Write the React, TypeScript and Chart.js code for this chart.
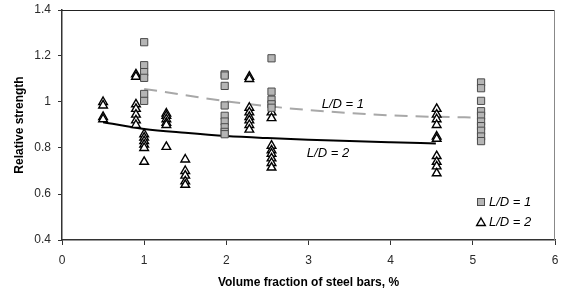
import React, { useEffect, useRef } from "react";
import { Chart, registerables } from "chart.js";

Chart.register(...registerables);

// Measured relative strength, L/D = 1 specimens
const ld1X = [
  1, 1, 1, 1, 1, 1,
  1.98, 1.98, 1.98, 1.98, 1.98, 1.98, 1.98, 1.98, 1.98,
  2.55, 2.55, 2.55, 2.55, 2.55,
  5.1, 5.1, 5.1, 5.1, 5.1, 5.1, 5.1, 5.1, 5.1, 5.1,
];
const ld1Y = [
  1.26, 1.16, 1.13, 1.105, 1.035, 1.005,
  1.12, 1.115, 1.07, 0.985, 0.94, 0.915, 0.89, 0.87, 0.86,
  1.19, 1.045, 1.01, 0.99, 0.975,
  1.085, 1.06, 1.005, 0.96, 0.94, 0.915, 0.895, 0.875, 0.85, 0.83,
];

// Measured relative strength, L/D = 2 specimens
const ld2X = [
  0.5, 0.5, 0.5, 0.5,
  0.9, 0.9, 0.9, 0.9, 0.9, 0.9, 0.9,
  1, 1, 1, 1, 1, 1,
  1.27, 1.27, 1.27, 1.27, 1.27, 1.27,
  1.5, 1.5, 1.5, 1.5, 1.5,
  2.28, 2.28, 2.28, 2.28, 2.28, 2.28, 2.28, 2.28,
  2.55, 2.55, 2.55, 2.55, 2.55, 2.55, 2.55, 2.55,
  4.56, 4.56, 4.56, 4.56, 4.56, 4.56, 4.56, 4.56, 4.56, 4.56,
];
const ld2Y = [
  1.0, 0.985, 0.935, 0.925,
  1.12, 1.11, 0.99, 0.97, 0.945, 0.92, 0.9,
  0.86, 0.845, 0.83, 0.815, 0.8, 0.74,
  0.95, 0.94, 0.925, 0.91, 0.9, 0.805,
  0.75, 0.7, 0.68, 0.655, 0.64,
  1.11, 1.1, 0.975, 0.955, 0.935, 0.92, 0.9, 0.88,
  0.955, 0.93, 0.81, 0.79, 0.775, 0.755, 0.735, 0.715,
  0.97, 0.945, 0.925, 0.9, 0.85, 0.84, 0.765, 0.74, 0.72, 0.69,
];

// Trend curves
const trend1X = [1, 1.5, 2, 2.5, 3, 3.5, 4, 4.5, 5.1];
const trend1Y = [1.057, 1.03, 1.003, 0.982, 0.965, 0.952, 0.942, 0.936, 0.932];
const trend2X = [0.5, 1, 1.5, 2, 2.5, 3, 3.5, 4, 4.55];
const trend2Y = [0.912, 0.883, 0.866, 0.852, 0.843, 0.836, 0.83, 0.825, 0.82];

// Axis ticks
const xTickValues = [0, 1, 2, 3, 4, 5, 6];
const yTickValues = [0.4, 0.6, 0.8, 1.0, 1.2, 1.4];
const yTickLabels = ["0.4", "0.6", "0.8", "1", "1.2", "1.4"];

// Curve annotations (data coordinates)
const curveLabelText = ["L/D = 1", "L/D = 2"];
const curveLabelX = [3.16, 2.98];
const curveLabelY = [0.99, 0.775];

const legendText = ["L/D = 1", "L/D = 2"];

const FONT = "'Liberation Sans', Arial, Helvetica, sans-serif";
const SQUARE_FILL = "#b5b5b5";
const SQUARE_EDGE = "#4a4a4a";

const toPoints = (xs: number[], ys: number[]) => xs.map((x, i) => ({ x, y: ys[i] }));

function drawSquare(ctx: CanvasRenderingContext2D, x: number, y: number) {
  ctx.fillStyle = SQUARE_FILL;
  ctx.strokeStyle = SQUARE_EDGE;
  ctx.lineWidth = 1;
  ctx.fillRect(x - 3.5, y - 3.5, 7, 7);
  ctx.strokeRect(x - 3.5, y - 3.5, 7, 7);
}

function drawTriangle(ctx: CanvasRenderingContext2D, x: number, y: number, r: number) {
  ctx.beginPath();
  let rad = 0;
  for (let i = 0; i < 3; i++) {
    const px = x + Math.sin(rad) * r;
    const py = y - Math.cos(rad) * r;
    if (i === 0) ctx.moveTo(px, py);
    else ctx.lineTo(px, py);
    rad += (Math.PI * 2) / 3;
  }
  ctx.closePath();
  ctx.fillStyle = "#fff";
  ctx.fill();
  ctx.strokeStyle = "#000";
  ctx.lineWidth = 1.4;
  ctx.stroke();
}

const decorations = {
  id: "decorations",
  afterDatasetsDraw(chart: any) {
    const { ctx, chartArea: a, scales } = chart;
    ctx.save();
    // frame on top and right
    ctx.lineWidth = 1;
    ctx.strokeStyle = "#222";
    ctx.beginPath();
    ctx.moveTo(a.left, a.top + 0.5);
    ctx.lineTo(a.right, a.top + 0.5);
    ctx.stroke();
    ctx.strokeStyle = "#888";
    ctx.beginPath();
    ctx.moveTo(a.right - 0.5, a.top);
    ctx.lineTo(a.right - 0.5, a.bottom);
    ctx.stroke();

    // curve annotations
    ctx.font = `italic 13px ${FONT}`;
    ctx.fillStyle = "#000";
    ctx.textBaseline = "middle";
    ctx.textAlign = "left";
    curveLabelText.forEach((t, i) => {
      ctx.fillText(t, scales.x.getPixelForValue(curveLabelX[i]), scales.y.getPixelForValue(curveLabelY[i]));
    });

    // legend, lower right of the plot area
    const lx = a.right - 74;
    const ly1 = a.bottom - 38;
    const ly2 = a.bottom - 18;
    drawSquare(ctx, lx, ly1);
    drawTriangle(ctx, lx, ly2 + 1, 5);
    ctx.fillStyle = "#000";
    ctx.fillText(legendText[0], lx + 8, ly1);
    ctx.fillText(legendText[1], lx + 8, ly2);
    ctx.restore();
  },
};

export default function App() {
  const canvasRef = useRef<HTMLCanvasElement | null>(null);

  useEffect(() => {
    if (!canvasRef.current) return;
    Chart.defaults.font.family = FONT;
    const chart = new Chart(canvasRef.current, {
      type: "scatter",
      data: {
        datasets: [
          {
            label: "L/D = 1",
            data: toPoints(ld1X, ld1Y),
            pointStyle: "rect",
            pointRadius: 5.1,
            backgroundColor: SQUARE_FILL,
            borderColor: SQUARE_EDGE,
            pointBorderWidth: 1,
            showLine: false,
          },
          {
            label: "L/D = 2",
            data: toPoints(ld2X, ld2Y),
            pointStyle: "triangle",
            pointRadius: 5,
            backgroundColor: "#ffffff",
            borderColor: "#000000",
            pointBorderWidth: 1.4,
            showLine: false,
          },
          {
            label: "trend L/D = 1",
            data: toPoints(trend1X, trend1Y),
            showLine: true,
            pointRadius: 0,
            borderColor: "#a8a8a8",
            borderWidth: 2,
            borderDash: [13, 8],
            cubicInterpolationMode: "monotone",
          },
          {
            label: "trend L/D = 2",
            data: toPoints(trend2X, trend2Y),
            showLine: true,
            pointRadius: 0,
            borderColor: "#000000",
            borderWidth: 2,
            cubicInterpolationMode: "monotone",
          },
        ],
      },
      options: {
        responsive: false,
        animation: false,
        layout: { padding: { top: 10, right: 7, left: 0, bottom: 0 } },
        plugins: {
          legend: { display: false },
          tooltip: { enabled: false },
        },
        scales: {
          x: {
            type: "linear",
            min: 0,
            max: 6,
            afterFit: (s: any) => {
              s.height = 50;
              s.paddingLeft = 0;
              s.paddingRight = 0;
            },
            afterBuildTicks: (s: any) => {
              s.ticks = xTickValues.map((v) => ({ value: v }));
            },
            ticks: {
              color: "#2a2a2a",
              font: { size: 12 },
              padding: 8,
              maxRotation: 0,
              callback: (v: any) => String(v),
            },
            grid: {
              drawOnChartArea: false,
              drawTicks: true,
              tickLength: 5,
              tickColor: "#333",
              tickWidth: 1,
            },
            border: { color: "#333", width: 1.5 },
            title: {
              display: true,
              text: "Volume fraction of steel bars, %",
              color: "#000",
              font: { size: 12, weight: "bold" },
              padding: { top: 0, bottom: 0 },
            },
          },
          y: {
            type: "linear",
            min: 0.4,
            max: 1.4,
            afterFit: (s: any) => {
              s.width = 62;
              s.paddingTop = 0;
              s.paddingBottom = 0;
            },
            afterBuildTicks: (s: any) => {
              s.ticks = yTickValues.map((v) => ({ value: v }));
            },
            ticks: {
              color: "#2a2a2a",
              font: { size: 12 },
              padding: 7,
              callback: (v: any) => {
                const i = yTickValues.findIndex((t) => Math.abs(t - Number(v)) < 1e-6);
                return i >= 0 ? yTickLabels[i] : "";
              },
            },
            grid: {
              drawOnChartArea: false,
              drawTicks: true,
              tickLength: 4,
              tickColor: "#333",
              tickWidth: 1,
            },
            border: { color: "#333", width: 1.5 },
            title: {
              display: true,
              text: "Relative strength",
              color: "#000",
              font: { size: 12, weight: "bold" },
              padding: { top: 12, bottom: 0 },
            },
          },
        },
      },
      plugins: [decorations],
    });
    return () => chart.destroy();
  }, []);

  return (
    <div style={{ position: "fixed", left: 0, top: 0, width: 562, height: 290, background: "#fff" }}>
      <canvas ref={canvasRef} width={562} height={290} style={{ display: "block" }} />
    </div>
  );
}
